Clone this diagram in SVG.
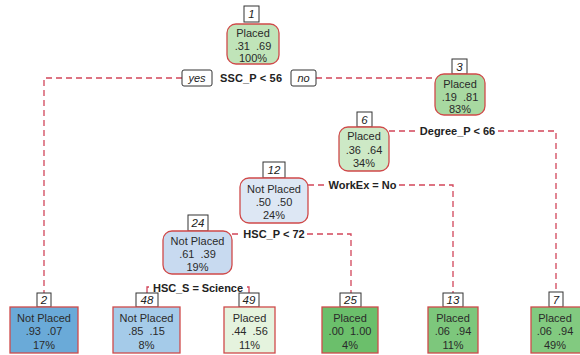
<svg xmlns="http://www.w3.org/2000/svg" width="580" height="355" viewBox="0 0 580 355">
<defs>
<style>
.bg{fill:#ffffff}
.edge{fill:none;stroke:#d2455a;stroke-width:1.3;stroke-dasharray:6,4}
.tick{fill:none;stroke:#d2455a;stroke-width:1.3}
.nb{stroke:#cf4a4a;stroke-width:1.3}
.num{fill:#ffffff;stroke:#333333;stroke-width:1}
.numt{font-family:"Liberation Sans",Arial,sans-serif;font-size:11.5px;font-style:italic;fill:#222222;text-anchor:middle}
.t{font-family:"Liberation Sans",Arial,sans-serif;font-size:11px;fill:#2a2a2a;text-anchor:middle;white-space:pre}
.s{font-family:"Liberation Sans",Arial,sans-serif;font-size:11px;font-weight:bold;fill:#222222;text-anchor:middle}
.lab{font-family:"Liberation Sans",Arial,sans-serif;font-size:11px;font-style:italic;fill:#222222;text-anchor:middle}
</style>
</defs>
<rect class="bg" x="0" y="0" width="580" height="355"/>

<g id="connectors">
<path class="edge" d="M182,78 H44 V293"/>
<path class="edge" d="M316,78 H435"/>
<path class="edge" d="M389,131 H417 M498,131 H556 V292"/>
<path class="edge" d="M308,185 H326 M399,185 H453 V293"/>
<path class="edge" d="M232,234 H240 M307,234 H351 V293"/>
<path class="tick" d="M149,287 H147 V293"/>
<path class="tick" d="M247,287 H249 V293"/>
</g>

<g id="split-labels">
<rect class="num" x="182" y="70" width="30" height="16" rx="2"/>
<text class="lab" x="197" y="82">yes</text>
<text class="s" x="251" y="82" textLength="62" lengthAdjust="spacing">SSC_P &lt; 56</text>
<rect class="num" x="291" y="70" width="25" height="16" rx="2"/>
<text class="lab" x="303.5" y="82">no</text>
<text class="s" x="457.5" y="135">Degree_P &lt; 66</text>
<text class="s" x="362.5" y="189">WorkEx = No</text>
<text class="s" x="274" y="238">HSC_P &lt; 72</text>
<text class="s" x="198" y="292" textLength="90" lengthAdjust="spacing">HSC_S = Science</text>
</g>

<g id="node1">
<rect class="num" x="244" y="6" width="15" height="16"/>
<text class="numt" x="251.5" y="18">1</text>
<rect class="nb" x="227" y="24" width="52" height="40" rx="9" fill="#c0e4b9"/>
<text class="t" x="253" y="37">Placed</text>
<text class="t" x="253" y="50" xml:space="preserve">.31  .69</text>
<text class="t" x="253" y="62">100%</text>
</g>

<g id="node3">
<rect class="num" x="452" y="59" width="15" height="15"/>
<text class="numt" x="459.5" y="71">3</text>
<rect class="nb" x="435" y="74" width="50" height="41" rx="9" fill="#a8d9a1"/>
<text class="t" x="460" y="88">Placed</text>
<text class="t" x="460" y="101" xml:space="preserve">.19  .81</text>
<text class="t" x="460" y="113">83%</text>
</g>

<g id="node6">
<rect class="num" x="357" y="112" width="15" height="15"/>
<text class="numt" x="364.5" y="124">6</text>
<rect class="nb" x="339" y="127" width="50" height="44" rx="9" fill="#cde9c6"/>
<text class="t" x="364" y="140">Placed</text>
<text class="t" x="364" y="154" xml:space="preserve">.36  .64</text>
<text class="t" x="364" y="167">34%</text>
</g>

<g id="node12">
<rect class="num" x="263" y="162" width="22" height="16"/>
<text class="numt" x="274" y="174">12</text>
<rect class="nb" x="240" y="178" width="68" height="45" rx="9" fill="#dde7f4"/>
<text class="t" x="274" y="193">Not Placed</text>
<text class="t" x="274" y="206" xml:space="preserve">.50  .50</text>
<text class="t" x="274" y="219">24%</text>
</g>

<g id="node24">
<rect class="num" x="188" y="215" width="20" height="16"/>
<text class="numt" x="198" y="227">24</text>
<rect class="nb" x="163" y="231" width="69" height="43" rx="9" fill="#c8daf0"/>
<text class="t" x="197.5" y="245">Not Placed</text>
<text class="t" x="197.5" y="258" xml:space="preserve">.61  .39</text>
<text class="t" x="197.5" y="271">19%</text>
</g>

<g id="node2">
<rect class="num" x="37" y="293" width="14" height="14"/>
<text class="numt" x="44" y="304">2</text>
<rect class="nb" x="10" y="307" width="68" height="46" fill="#6aaad8"/>
<text class="t" x="44" y="322">Not Placed</text>
<text class="t" x="44" y="335" xml:space="preserve">.93  .07</text>
<text class="t" x="44" y="349">17%</text>
</g>

<g id="node48">
<rect class="num" x="136" y="293" width="22" height="14"/>
<text class="numt" x="147" y="304">48</text>
<rect class="nb" x="113" y="307" width="67" height="46" fill="#a5cbe9"/>
<text class="t" x="146.5" y="322">Not Placed</text>
<text class="t" x="146.5" y="335" xml:space="preserve">.85  .15</text>
<text class="t" x="146.5" y="349">8%</text>
</g>

<g id="node49">
<rect class="num" x="239" y="293" width="20" height="14"/>
<text class="numt" x="249" y="304">49</text>
<rect class="nb" x="224" y="307" width="51" height="46" fill="#e5f3de"/>
<text class="t" x="249.5" y="322">Placed</text>
<text class="t" x="249.5" y="335" xml:space="preserve">.44  .56</text>
<text class="t" x="249.5" y="349">11%</text>
</g>

<g id="node25">
<rect class="num" x="340" y="293" width="21" height="14"/>
<text class="numt" x="350.5" y="304">25</text>
<rect class="nb" x="322" y="307" width="56" height="46" fill="#6bbf6b"/>
<text class="t" x="350" y="322">Placed</text>
<text class="t" x="350" y="335" xml:space="preserve">.00  1.00</text>
<text class="t" x="350" y="349">4%</text>
</g>

<g id="node13">
<rect class="num" x="443" y="293" width="20" height="14"/>
<text class="numt" x="453" y="304">13</text>
<rect class="nb" x="428" y="307" width="50" height="46" fill="#7dc77c"/>
<text class="t" x="453" y="322">Placed</text>
<text class="t" x="453" y="335" xml:space="preserve">.06  .94</text>
<text class="t" x="453" y="349">11%</text>
</g>

<g id="node7">
<rect class="num" x="549" y="292" width="14" height="15"/>
<text class="numt" x="556" y="304">7</text>
<rect class="nb" x="531" y="307" width="50" height="46" fill="#82ca80"/>
<text class="t" x="555" y="322">Placed</text>
<text class="t" x="555" y="335" xml:space="preserve">.06  .94</text>
<text class="t" x="555" y="349">49%</text>
</g>
</svg>
